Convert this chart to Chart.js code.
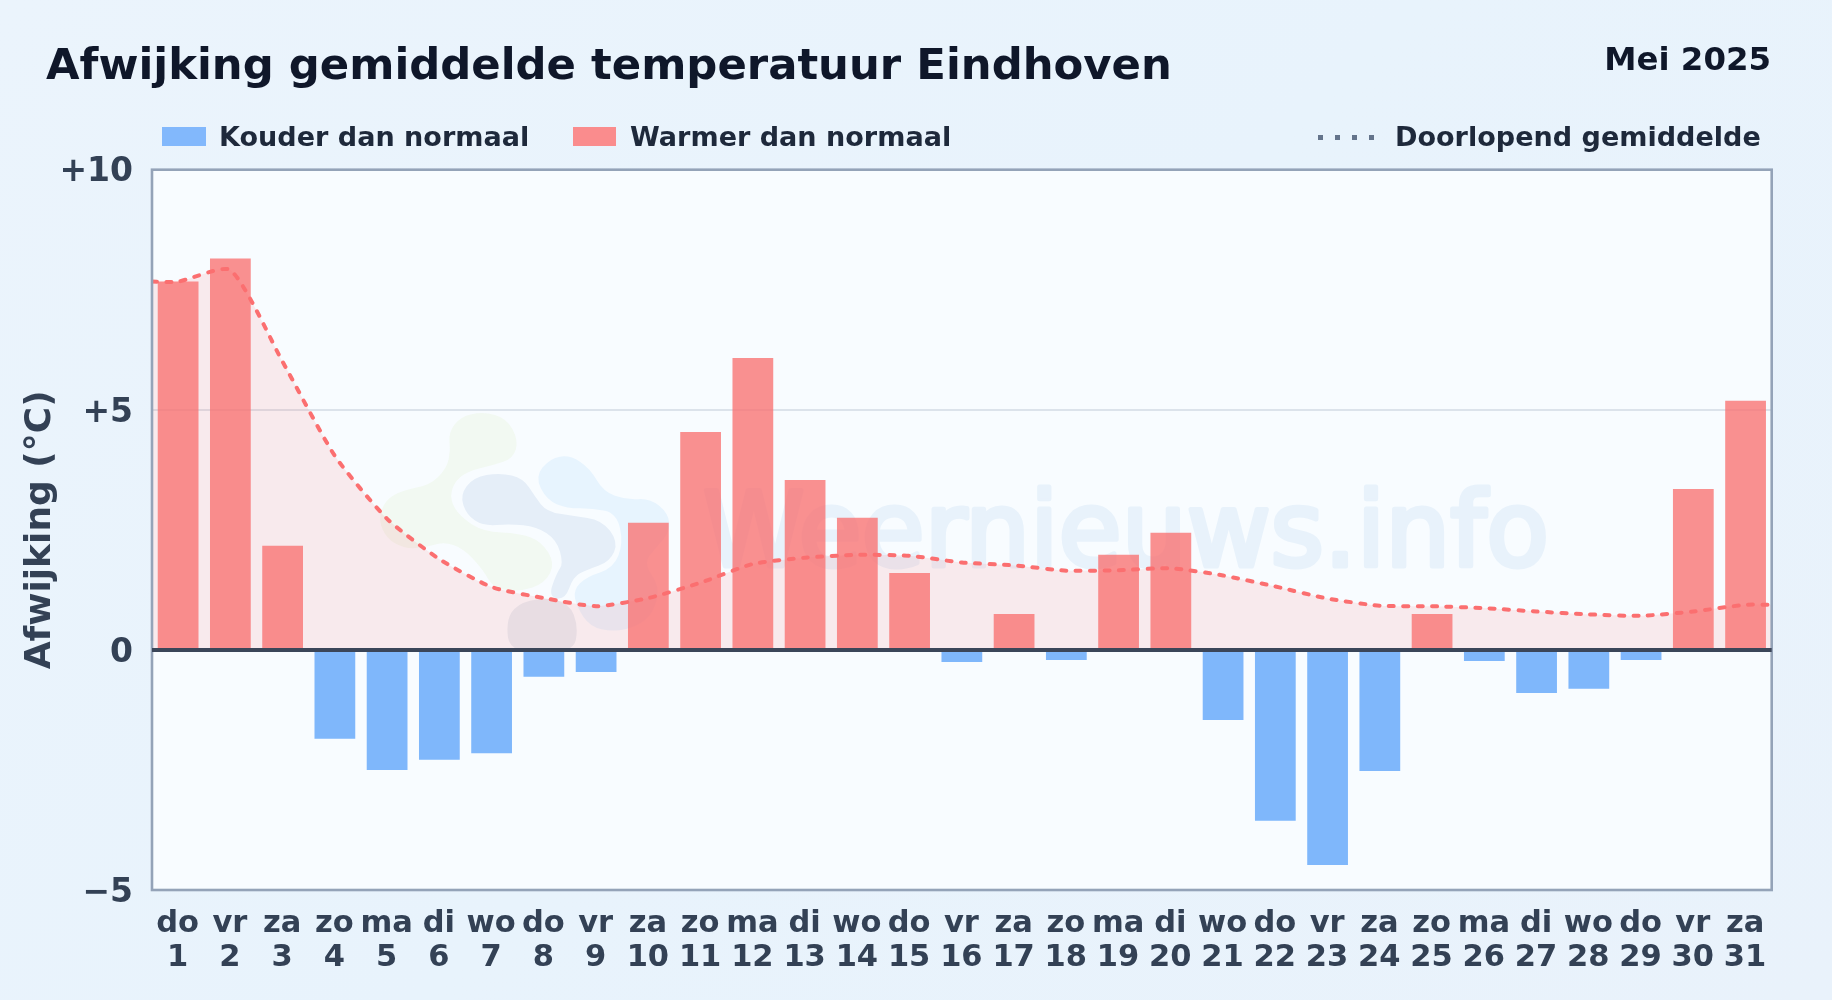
<!DOCTYPE html>
<html lang="nl">
<head>
<meta charset="utf-8">
<title>Afwijking gemiddelde temperatuur Eindhoven</title>
<script src="https://cdn.jsdelivr.net/npm/chart.js@4"></script>
<style>
html,body{margin:0;padding:0;width:1832px;height:1000px;overflow:hidden}
body{background:linear-gradient(135deg,#ebf4fc 0%,#e8f3fc 50%,#e9f2fb 100%);font-family:"DejaVu Sans",sans-serif;font-weight:700;position:relative}
canvas{position:absolute;left:0;top:0}
.t{position:absolute;white-space:nowrap;line-height:1}
#title{left:46px;top:43px;font-size:43.35px;color:#0f172a}
#period{right:61px;top:43px;font-size:32.4px;color:#0f172a}
.leg{top:123px;font-size:27.05px;color:#1e293b}
.sw{position:absolute;top:127px;height:19px}
.dot{position:absolute;top:135px;width:5px;height:5px;background:#64748b}
</style>
</head>
<body>
<canvas id="c" width="1832" height="1000"></canvas>
<div class="t" id="title">Afwijking gemiddelde temperatuur Eindhoven</div>
<div class="t" id="period">Mei 2025</div>
<div class="sw" style="left:162px;width:44px;background:#82b8fc"></div>
<div class="t leg" style="left:219px">Kouder dan normaal</div>
<div class="sw" style="left:573px;width:43px;background:#fa8c8d"></div>
<div class="t leg" style="left:630px">Warmer dan normaal</div>
<div class="dot" style="left:1318px"></div><div class="dot" style="left:1335px"></div><div class="dot" style="left:1352px"></div><div class="dot" style="left:1369px"></div>
<div class="t leg" style="left:1395px">Doorlopend gemiddelde</div>
<script>
const weekdays = ['do','vr','za','zo','ma','di','wo','do','vr','za','zo','ma','di','wo','do','vr','za','zo','ma','di','wo','do','vr','za','zo','ma','di','wo','do','vr','za'];
const dayNumbers = [1,2,3,4,5,6,7,8,9,10,11,12,13,14,15,16,17,18,19,20,21,22,23,24,25,26,27,28,29,30,31];
const deviations = [7.67,8.15,2.17,-1.85,-2.5,-2.29,-2.15,-0.56,-0.46,2.65,4.54,6.08,3.54,2.75,1.6,-0.25,0.75,-0.21,1.98,2.44,-1.46,-3.56,-4.48,-2.52,0.75,-0.23,-0.9,-0.81,-0.21,3.35,5.19];
const runningX = [0.5,1,2,3,4,5,6,7,8,9,10,11,12,13,14,15,16,17,18,19,20,21,22,23,24,25,26,27,28,29,30,31,31.5];
const runningMean = [7.67,7.67,7.91,6.0,4.04,2.73,1.89,1.31,1.08,0.91,1.08,1.4,1.79,1.92,1.98,1.96,1.82,1.76,1.65,1.66,1.7,1.55,1.32,1.07,0.92,0.91,0.87,0.8,0.74,0.71,0.8,0.94,0.94];
const yTickValues = [-5,0,5,10];

const WARM = '#f87171c8', COLD = '#60a5facc';

function blob(ctx, pts, color){
  const ox = 360, oy = 400, k = 1/3;
  const P = pts.map(p => [ox + p[0]*k, oy + p[1]*k]);
  ctx.beginPath();
  for(let i=0;i<P.length;i++){
    const a=P[i], b=P[(i+1)%P.length], m=[(a[0]+b[0])/2,(a[1]+b[1])/2];
    if(i===0){const z=P[P.length-1]; ctx.moveTo((z[0]+a[0])/2,(z[1]+a[1])/2);}
    ctx.quadraticCurveTo(a[0],a[1],m[0],m[1]);
  }
  ctx.closePath(); ctx.fillStyle=color; ctx.fill();
}
const backdrop = {
  id:'backdrop',
  beforeDraw(ch){
    const {ctx,chartArea:a,scales:{y}}=ch;
    ctx.save();
    ctx.fillStyle='#f8fcff';
    ctx.fillRect(a.left,a.top,a.width,a.height);
    ctx.beginPath();ctx.rect(a.left,a.top,a.width,y.getPixelForValue(0)-a.top);ctx.clip();
    blob(ctx,[[265,100],[300,50],[370,35],[440,55],[475,120],[460,175],[400,195],[320,215],[280,250],[270,300],[300,350],[370,395],[480,400],[545,425],[585,490],[555,550],[480,575],[400,565],[370,510],[310,445],[250,425],[190,445],[130,445],[80,415],[55,360],[75,300],[130,270],[210,255],[260,205],[272,150]],'#f2f9f2');
    blob(ctx,[[525,230],[570,175],[630,165],[690,205],[730,275],[800,300],[870,295],[925,340],[930,395],[890,440],[850,490],[900,560],[880,640],[830,680],[760,695],[690,680],[650,620],[640,570],[680,530],[760,505],[790,430],[770,340],[700,325],[620,325],[560,300]],'#e7f4fe');
    blob(ctx,[[300,285],[340,232],[420,218],[490,235],[525,290],[560,335],[640,348],[725,360],[775,425],[750,485],[680,510],[640,530],[615,600],[565,590],[590,520],[610,490],[590,420],[530,380],[450,372],[370,378],[320,345]],'#e5eef8');
    blob(ctx,[[438,665],[470,612],[550,592],[628,610],[655,680],[640,760],[450,760]],'#e6edf4');
    ctx.font='400 102.6px "DejaVu Sans"';
    ctx.fillStyle='#e8f2fb';ctx.strokeStyle='#e8f2fb';ctx.lineWidth=5;ctx.lineJoin='round';
    ctx.textAlign='left';ctx.textBaseline='alphabetic';
    ctx.strokeText('Weernieuws.info',703,566);
    ctx.fillText('Weernieuws.info',703,566);
    ctx.restore();
  },
  afterDatasetsDraw(ch){
    const {ctx,chartArea:a,scales:{y}}=ch;
    ctx.save();
    ctx.strokeStyle='#94a3b8';ctx.lineWidth=2.6;
    ctx.strokeRect(a.left,a.top,a.width,a.height);
    const z=y.getPixelForValue(0);
    ctx.strokeStyle='#3b4659';ctx.lineWidth=4;
    ctx.beginPath();ctx.moveTo(a.left,z);ctx.lineTo(a.right,z);ctx.stroke();
    ctx.restore();
  }
};

new Chart(document.getElementById('c'),{
  data:{
    labels:weekdays.map((w,i)=>[w,String(dayNumbers[i])]),
    datasets:[
      {type:'line',label:'Doorlopend gemiddelde',xAxisID:'xLine',yAxisID:'y',order:0,
       data:runningX.map((x,i)=>({x,y:runningMean[i]})),
       borderColor:'#fb6f70',borderWidth:4,borderDash:[5,9.4],borderCapStyle:'round',
       pointRadius:0,tension:0.2,
       fill:{target:{value:0},above:'rgba(248,113,113,0.13)',below:'rgba(248,113,113,0.13)'}},
      {type:'bar',label:'Afwijking',xAxisID:'x',yAxisID:'y',order:1,
       data:deviations,grouped:false,
       backgroundColor:deviations.map(v=>v<0?COLD:WARM),
       borderWidth:0,barPercentage:0.78,categoryPercentage:1}
    ]
  },
  options:{
    responsive:false,animation:false,
    layout:{padding:{left:0,right:60.3,top:169.7,bottom:0}},
    plugins:{legend:{display:false},tooltip:{enabled:false},filler:{drawTime:'beforeDatasetsDraw'}},
    scales:{
      x:{type:'category',offset:true,
         afterFit(s){s.height=110;},
         grid:{display:false},border:{display:false},
         ticks:{color:'#334155',maxRotation:0,minRotation:0,autoSkip:false,padding:9,labelOffset:-0.5,
                font:{family:'"DejaVu Sans"',size:30.5,weight:'700',lineHeight:1.115}}},
      xLine:{type:'linear',display:false,min:0.5,max:31.5,position:'bottom'},
      y:{min:-5,max:10,
         afterFit(s){s.width=152;},
         afterBuildTicks(s){s.ticks=yTickValues.map(value=>({value}));},
         grid:{drawTicks:false,lineWidth:2,color:c=>c.tick&&c.tick.value===5?'rgba(148,163,184,0.28)':'rgba(0,0,0,0)'},
         border:{display:false},
         title:{display:true,text:'Afwijking (°C)',color:'#334155',padding:{top:19,bottom:0},
                font:{family:'"DejaVu Sans"',size:36,weight:'700'}},
         ticks:{color:'#334155',padding:19,labelOffset:3.2,
                callback:v=>v>0?'+'+v:(v<0?'\u2212'+Math.abs(v):'0'),
                font:{family:'"DejaVu Sans"',size:33,weight:'700'}}}
    }
  },
  plugins:[backdrop]
});
</script>
</body>
</html>
